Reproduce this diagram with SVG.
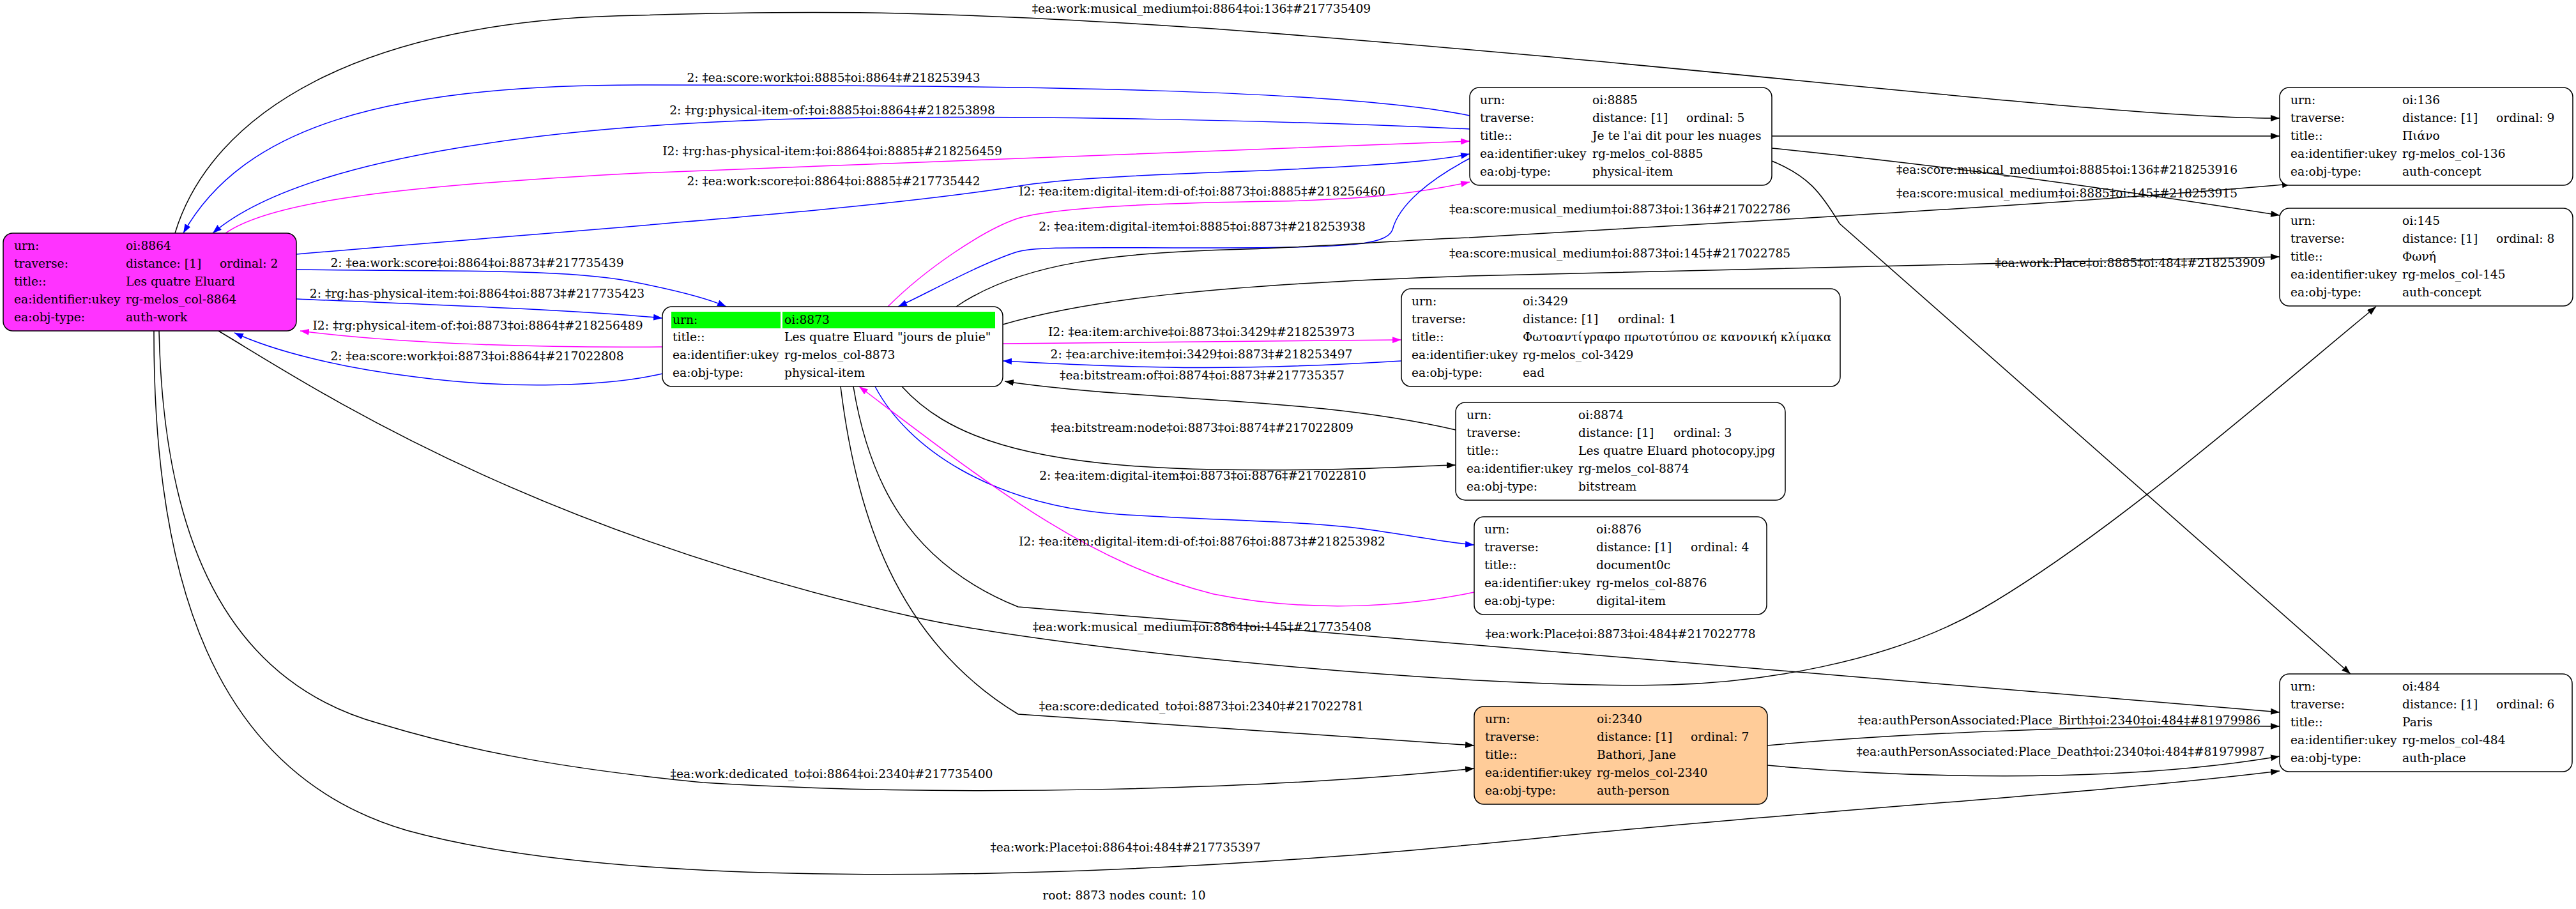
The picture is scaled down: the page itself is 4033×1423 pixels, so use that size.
<svg xmlns="http://www.w3.org/2000/svg" width="4033" height="1423" viewBox="0 0 4033 1423">
<style>
text{font-family:"DejaVu Serif","Liberation Serif",serif;font-size:18.67px;fill:#000}
.box{stroke:#000;stroke-width:1.5}
.w{fill:#fff}
.lbl{text-anchor:middle}
.bk{fill:none;stroke:#000;stroke-width:1.5}
.bl{fill:none;stroke:#0000ff;stroke-width:1.5}
.mg{fill:none;stroke:#ff00ff;stroke-width:1.5}
</style>
<defs>
<marker id="ak" viewBox="0 0 14 10" refX="14" refY="5" markerWidth="14" markerHeight="10" markerUnits="userSpaceOnUse" orient="auto"><path d="M0,0L14,5L0,10z" fill="#000"/></marker>
<marker id="ab" viewBox="0 0 14 10" refX="14" refY="5" markerWidth="14" markerHeight="10" markerUnits="userSpaceOnUse" orient="auto"><path d="M0,0L14,5L0,10z" fill="#0000ff"/></marker>
<marker id="am" viewBox="0 0 14 10" refX="14" refY="5" markerWidth="14" markerHeight="10" markerUnits="userSpaceOnUse" orient="auto"><path d="M0,0L14,5L0,10z" fill="#ff00ff"/></marker>
</defs>
<rect width="4033" height="1423" fill="#fff"/>
<g id="edges">
<path class="bk" marker-end="url(#ak)" d="M274,365 C330,180 560,30 1000,24 C1300,15 1500,18 1900,45 C2700,105 3300,185 3569,185"/>
<text class="lbl" x="1881" y="20">‡ea:work:musical_medium‡oi:8864‡oi:136‡#217735409</text>
<path class="bl" marker-end="url(#ab)" d="M2301,181 C2100,140 1600,133 1000,133 C600,133 380,200 287,365"/>
<text class="lbl" x="1305" y="128">2: ‡ea:score:work‡oi:8885‡oi:8864‡#218253943</text>
<path class="bl" marker-end="url(#ab)" d="M2301,202 C2000,188 1600,180 1300,185 C900,192 480,240 333,365"/>
<text class="lbl" x="1303" y="179">2: ‡rg:physical-item-of:‡oi:8885‡oi:8864‡#218253898</text>
<path class="mg" marker-end="url(#am)" d="M353,365 C420,318 600,292 1000,271 C1500,250 2000,232 2301,221"/>
<text class="lbl" x="1303" y="243">I2: ‡rg:has-physical-item:‡oi:8864‡oi:8885‡#218256459</text>
<path class="bl" marker-end="url(#ab)" d="M464,398 C900,360 1350,330 1590,292 C1750,265 2150,272 2301,241"/>
<text class="lbl" x="1305" y="290">2: ‡ea:work:score‡oi:8864‡oi:8885‡#217735442</text>
<path class="mg" marker-end="url(#am)" d="M1390,480 C1450,420 1540,360 1593,342 C1650,325 1800,318 2000,315 C2150,312 2230,300 2301,285"/>
<text class="lbl" x="1882" y="306">I2: ‡ea:item:digital-item:di-of:‡oi:8873‡oi:8885‡#218256460</text>
<path class="bl" marker-end="url(#ab)" d="M2301,248 C2240,280 2190,320 2180,360 C2170,385 2100,388 1900,388 C1700,388 1620,385 1590,395 C1530,415 1450,460 1406,480"/>
<text class="lbl" x="1882" y="361">2: ‡ea:item:digital-item‡oi:8885‡oi:8873‡#218253938</text>
<path class="bk" marker-end="url(#ak)" d="M2774,213 L3569,213"/>
<text class="lbl" x="3236" y="272">‡ea:score:musical_medium‡oi:8885‡oi:136‡#218253916</text>
<path class="bk" marker-end="url(#ak)" d="M2774,232 C3100,265 3400,310 3569,337"/>
<text class="lbl" x="3236" y="309">‡ea:score:musical_medium‡oi:8885‡oi:145‡#218253915</text>
<path class="bk" marker-end="url(#ak)" d="M2774,252 C2830,275 2850,300 2880,350 L3680,1055"/>
<text class="lbl" x="3335" y="418">‡ea:work:Place‡oi:8885‡oi:484‡#218253909</text>
<path class="bk" marker-end="url(#ak)" d="M1497,480 C1600,410 1750,395 1950,390 C2100,385 2200,375 2300,372 L2800,343 C3100,325 3400,305 3587,288"/>
<text x="2269" y="334">‡ea:score:musical_medium‡oi:8873‡oi:136‡#217022786</text>
<path class="bk" marker-end="url(#ak)" d="M1570,508 C1700,470 1900,445 2300,432 C2800,418 3300,405 3569,402"/>
<text x="2269" y="403">‡ea:score:musical_medium‡oi:8873‡oi:145‡#217022785</text>
<path class="bl" marker-end="url(#ab)" d="M464,422 C700,425 900,420 1000,443 C1060,455 1110,468 1137,480"/>
<text class="lbl" x="747" y="418">2: ‡ea:work:score‡oi:8864‡oi:8873‡#217735439</text>
<path class="bl" marker-end="url(#ab)" d="M464,468 C700,478 900,485 1037,498"/>
<text class="lbl" x="747" y="466">2: ‡rg:has-physical-item:‡oi:8864‡oi:8873‡#217735423</text>
<path class="mg" marker-end="url(#am)" d="M1037,543 C800,545 600,535 470,518"/>
<text class="lbl" x="748" y="516">I2: ‡rg:physical-item-of:‡oi:8873‡oi:8864‡#218256489</text>
<path class="bl" marker-end="url(#ab)" d="M1037,585 C950,605 800,610 650,590 C530,575 430,550 367,521"/>
<text class="lbl" x="747" y="564">2: ‡ea:score:work‡oi:8873‡oi:8864‡#217022808</text>
<path class="mg" marker-end="url(#am)" d="M1570,538 C1800,536 2000,534 2194,532"/>
<text class="lbl" x="1881" y="526">I2: ‡ea:item:archive‡oi:8873‡oi:3429‡#218253973</text>
<path class="bl" marker-end="url(#ab)" d="M2194,565 C1950,580 1800,578 1570,565"/>
<text class="lbl" x="1881" y="561">2: ‡ea:archive:item‡oi:3429‡oi:8873‡#218253497</text>
<path class="bk" marker-end="url(#ak)" d="M2279,673 C2050,620 1800,630 1573,597"/>
<text class="lbl" x="1882" y="594">‡ea:bitstream:of‡oi:8874‡oi:8873‡#217735357</text>
<path class="bk" marker-end="url(#ak)" d="M1412,605 C1480,680 1600,730 1900,735 C2100,738 2200,730 2279,728"/>
<text class="lbl" x="1882" y="676">‡ea:bitstream:node‡oi:8873‡oi:8874‡#217022809</text>
<path class="bl" marker-end="url(#ab)" d="M1370,605 C1420,700 1550,790 1750,805 C1900,815 2050,815 2150,830 C2220,840 2270,850 2308,853"/>
<text class="lbl" x="1883" y="751">2: ‡ea:item:digital-item‡oi:8873‡oi:8876‡#217022810</text>
<path class="mg" marker-end="url(#am)" d="M2308,927 C2200,950 2050,960 1900,930 C1700,880 1550,760 1345,605"/>
<text class="lbl" x="1882" y="854">I2: ‡ea:item:digital-item:di-of:‡oi:8876‡oi:8873‡#218253982</text>
<path class="bk" marker-end="url(#ak)" d="M342,518 C480,600 820,830 1436,967 C1650,1015 2300,1080 2615,1072 C2750,1068 2950,1040 3100,955 C3300,840 3550,620 3720,480"/>
<text class="lbl" x="1882" y="988">‡ea:work:musical_medium‡oi:8864‡oi:145‡#217735408</text>
<path class="bk" marker-end="url(#ak)" d="M1336,605 C1360,750 1420,880 1594,950 L3569,1115"/>
<text class="lbl" x="2537" y="999">‡ea:work:Place‡oi:8873‡oi:484‡#217022778</text>
<path class="bk" marker-end="url(#ak)" d="M1316,605 C1340,800 1400,1000 1594,1118 L2308,1167"/>
<text class="lbl" x="1881" y="1112">‡ea:score:dedicated_to‡oi:8873‡oi:2340‡#217022781</text>
<path class="bk" marker-end="url(#ak)" d="M249,518 C255,800 330,1060 595,1133 C750,1180 900,1205 1100,1225 C1500,1250 2000,1235 2308,1203"/>
<text class="lbl" x="1302" y="1218">‡ea:work:dedicated_to‡oi:8864‡oi:2340‡#217735400</text>
<path class="bk" marker-end="url(#ak)" d="M2767,1167 C2950,1150 3250,1135 3569,1137"/>
<text class="lbl" x="3224" y="1134">‡ea:authPersonAssociated:Place_Birth‡oi:2340‡oi:484‡#81979986</text>
<path class="bk" marker-end="url(#ak)" d="M2767,1198 C2950,1215 3300,1230 3569,1184"/>
<text class="lbl" x="3226" y="1183">‡ea:authPersonAssociated:Place_Death‡oi:2340‡oi:484‡#81979987</text>
<path class="bk" marker-end="url(#ak)" d="M241,518 C240,900 330,1210 637,1300 C1000,1400 1700,1370 2100,1340 C2300,1325 2420,1310 2532,1300 C2900,1265 3300,1240 3569,1207"/>
<text class="lbl" x="1762" y="1333">‡ea:work:Place‡oi:8864‡oi:484‡#217735397</text>
</g>
<g id="n8864">
<rect class="box" x="5" y="365" width="459" height="153" rx="15" fill="#ff33ff"/>
<text x="22" y="391">urn:</text><text x="197" y="391">oi:8864</text>
<text x="22" y="419">traverse:</text><text x="197" y="419">distance: [1]</text><text x="344" y="419">ordinal: 2</text>
<text x="22" y="447">title::</text><text x="197" y="447">Les quatre Eluard</text>
<text x="22" y="475">ea:identifier:ukey</text><text x="197" y="475">rg-melos_col-8864</text>
<text x="22" y="503">ea:obj-type:</text><text x="197" y="503">auth-work</text>
</g>
<g id="n8873">
<rect class="box w" x="1037" y="480" width="533" height="125" rx="15"/>
<rect x="1051" y="488" width="171" height="26" fill="#00ff00"/>
<rect x="1225" y="488" width="333" height="26" fill="#00ff00"/>
<text x="1053" y="507">urn:</text><text x="1228" y="507">oi:8873</text>
<text x="1053" y="534">title::</text><text x="1228" y="534">Les quatre Eluard "jours de pluie"</text>
<text x="1053" y="562">ea:identifier:ukey</text><text x="1228" y="562">rg-melos_col-8873</text>
<text x="1053" y="590">ea:obj-type:</text><text x="1228" y="590">physical-item</text>
</g>
<g id="n8885">
<rect class="box w" x="2301" y="137" width="473" height="153" rx="15"/>
<text x="2317" y="163">urn:</text><text x="2493" y="163">oi:8885</text>
<text x="2317" y="191">traverse:</text><text x="2493" y="191">distance: [1]</text><text x="2640" y="191">ordinal: 5</text>
<text x="2317" y="219">title::</text><text x="2493" y="219">Je te l'ai dit pour les nuages</text>
<text x="2317" y="247">ea:identifier:ukey</text><text x="2493" y="247">rg-melos_col-8885</text>
<text x="2317" y="275">ea:obj-type:</text><text x="2493" y="275">physical-item</text>
</g>
<g id="n136">
<rect class="box w" x="3569" y="137" width="459" height="153" rx="15"/>
<text x="3586" y="163">urn:</text><text x="3761" y="163">oi:136</text>
<text x="3586" y="191">traverse:</text><text x="3761" y="191">distance: [1]</text><text x="3908" y="191">ordinal: 9</text>
<text x="3586" y="219">title::</text><text x="3761" y="219">Πιάνο</text>
<text x="3586" y="247">ea:identifier:ukey</text><text x="3761" y="247">rg-melos_col-136</text>
<text x="3586" y="275">ea:obj-type:</text><text x="3761" y="275">auth-concept</text>
</g>
<g id="n145">
<rect class="box w" x="3569" y="326" width="459" height="153" rx="15"/>
<text x="3586" y="352">urn:</text><text x="3761" y="352">oi:145</text>
<text x="3586" y="380">traverse:</text><text x="3761" y="380">distance: [1]</text><text x="3908" y="380">ordinal: 8</text>
<text x="3586" y="408">title::</text><text x="3761" y="408">Φωνή</text>
<text x="3586" y="436">ea:identifier:ukey</text><text x="3761" y="436">rg-melos_col-145</text>
<text x="3586" y="464">ea:obj-type:</text><text x="3761" y="464">auth-concept</text>
</g>
<g id="n3429">
<rect class="box w" x="2194" y="452" width="687" height="153" rx="15"/>
<text x="2210" y="478">urn:</text><text x="2384" y="478">oi:3429</text>
<text x="2210" y="506">traverse:</text><text x="2384" y="506">distance: [1]</text><text x="2533" y="506">ordinal: 1</text>
<text x="2210" y="534">title::</text><text x="2384" y="534">Φωτοαντίγραφο πρωτοτύπου σε κανονική κλίμακα</text>
<text x="2210" y="562">ea:identifier:ukey</text><text x="2384" y="562">rg-melos_col-3429</text>
<text x="2210" y="590">ea:obj-type:</text><text x="2384" y="590">ead</text>
</g>
<g id="n8874">
<rect class="box w" x="2279" y="630" width="516" height="153" rx="15"/>
<text x="2296" y="656">urn:</text><text x="2471" y="656">oi:8874</text>
<text x="2296" y="684">traverse:</text><text x="2471" y="684">distance: [1]</text><text x="2620" y="684">ordinal: 3</text>
<text x="2296" y="712">title::</text><text x="2471" y="712">Les quatre Eluard photocopy.jpg</text>
<text x="2296" y="740">ea:identifier:ukey</text><text x="2471" y="740">rg-melos_col-8874</text>
<text x="2296" y="768">ea:obj-type:</text><text x="2471" y="768">bitstream</text>
</g>
<g id="n8876">
<rect class="box w" x="2308" y="809" width="458" height="153" rx="15"/>
<text x="2324" y="835">urn:</text><text x="2499" y="835">oi:8876</text>
<text x="2324" y="863">traverse:</text><text x="2499" y="863">distance: [1]</text><text x="2647" y="863">ordinal: 4</text>
<text x="2324" y="891">title::</text><text x="2499" y="891">document0c</text>
<text x="2324" y="919">ea:identifier:ukey</text><text x="2499" y="919">rg-melos_col-8876</text>
<text x="2324" y="947">ea:obj-type:</text><text x="2499" y="947">digital-item</text>
</g>
<g id="n2340">
<rect class="box" x="2308" y="1106" width="459" height="153" rx="15" fill="#ffcc99"/>
<text x="2325" y="1132">urn:</text><text x="2500" y="1132">oi:2340</text>
<text x="2325" y="1160">traverse:</text><text x="2500" y="1160">distance: [1]</text><text x="2647" y="1160">ordinal: 7</text>
<text x="2325" y="1188">title::</text><text x="2500" y="1188">Bathori, Jane</text>
<text x="2325" y="1216">ea:identifier:ukey</text><text x="2500" y="1216">rg-melos_col-2340</text>
<text x="2325" y="1244">ea:obj-type:</text><text x="2500" y="1244">auth-person</text>
</g>
<g id="n484">
<rect class="box w" x="3569" y="1055" width="458" height="153" rx="15"/>
<text x="3586" y="1081">urn:</text><text x="3761" y="1081">oi:484</text>
<text x="3586" y="1109">traverse:</text><text x="3761" y="1109">distance: [1]</text><text x="3908" y="1109">ordinal: 6</text>
<text x="3586" y="1137">title::</text><text x="3761" y="1137">Paris</text>
<text x="3586" y="1165">ea:identifier:ukey</text><text x="3761" y="1165">rg-melos_col-484</text>
<text x="3586" y="1193">ea:obj-type:</text><text x="3761" y="1193">auth-place</text>
</g>
<text class="lbl" x="1760" y="1408">root: 8873 nodes count: 10</text>
</svg>
